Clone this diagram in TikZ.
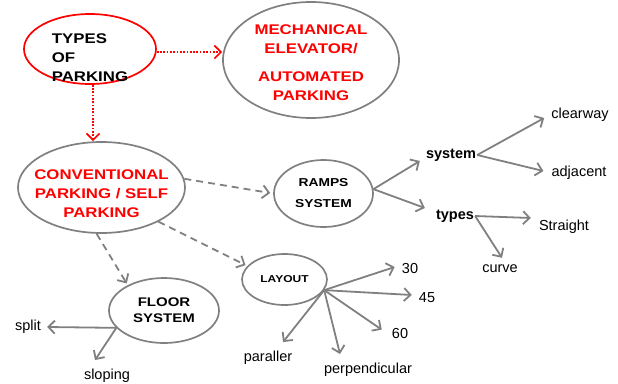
\documentclass[tikz,border=0pt]{standalone}
\usepackage{fontspec}
\setmainfont{Liberation Sans}
\newfontfamily\capsfont[FakeStretch=1.2]{Liberation Sans}
\usetikzlibrary{shapes.geometric,arrows.meta}
\definecolor{linegray}{RGB}{128,128,128}
\definecolor{parkred}{RGB}{255,0,0}

\begin{document}
\begin{tikzpicture}[x=1pt, y=-1pt,
  >={Straight Barb[length=6.5pt,width=13pt]},
  ring/.style={draw=linegray, ellipse, line width=1.7pt, inner xsep=-20pt, inner ysep=-15pt, align=center},
  redring/.style={ring, draw=parkred},
  big/.style={font=\capsfont\bfseries\fontsize{14}{19}\selectfont},
  mid/.style={font=\capsfont\bfseries\fontsize{11.5}{15}\selectfont},
  leaf/.style={font=\fontsize{14.5}{16}\selectfont, inner sep=1pt},
  link/.style={->, draw=linegray, line width=1.8pt},
  dashlink/.style={link, dash pattern=on 7pt off 5pt},
  dotlink/.style={->, draw=parkred, line width=1.7pt, dash pattern=on 1.7pt off 1.6pt}]
  \useasboundingbox (0,0) rectangle (618,383);
  % main ellipses
  \node[redring, big, align=left, minimum width=132, minimum height=70] (types) at (90,49) {\rule{0pt}{28pt}TYPES\\OF\\PARKING};
  \node[ring, big, text=parkred, minimum width=176, minimum height=116] (mech) at (311,60) {\rule{0pt}{16pt}MECHANICAL\\ELEVATOR/\\[9pt]AUTOMATED\\PARKING};
  \node[ring, big, text=parkred, minimum width=167, minimum height=91] (conv) at (101.5,187.5) {\rule{0pt}{22pt}CONVENTIONAL\\PARKING / SELF\\PARKING};
  \node[ring, mid, minimum width=99, minimum height=67] (ramps) at (323.5,193.5) {RAMPS\\[6pt]SYSTEM};
  \node[ring, font=\capsfont\bfseries\fontsize{10}{12}\selectfont, minimum width=85, minimum height=51] (lay) at (284.5,279.5) {LAYOUT};
  \node[ring, font=\capsfont\bfseries\fontsize{12.5}{16}\selectfont, minimum width=110, minimum height=65] (floor) at (164,310.5) {FLOOR\\SYSTEM};
  % leaves
  \node[leaf, font=\bfseries\fontsize{14.5}{16}\selectfont] (sys) at (451,155) {system};
  \node[leaf, font=\bfseries\fontsize{14.5}{16}\selectfont] (typ) at (455,216) {types};
  \node[leaf] (clr) at (580,115) {clearway};
  \node[leaf] (adj) at (579,173) {adjacent};
  \node[leaf] (str) at (564,227) {Straight};
  \node[leaf] (crv) at (500,269) {curve};
  \node[leaf] (n30) at (410,269) {30};
  \node[leaf] (n45) at (427,298) {45};
  \node[leaf] (n60) at (400,334) {60};
  \node[leaf] (perp) at (368,370) {perpendicular};
  \node[leaf] (par) at (268,358) {paraller};
  \node[leaf] (spl) at (28,327) {split};
  \node[leaf] (slo) at (107,376) {sloping};
  % connectors
  \draw[dotlink] ([yshift=-3pt]types.east) -- ([yshift=-3pt]types.east -| mech.west);
  \draw[dotlink] ([xshift=3pt]types.south) -- ([xshift=3pt]types.south |- conv.north);
  \draw[dashlink, shorten >=3pt] (conv.6) -- (ramps.west);
  \draw[dashlink, shorten >=2pt] (conv.-31) -- (lay.160);
  \draw[dashlink, shorten >=2pt] (conv.-96) -- (floor.145);
  \draw[link] (ramps.5) -- ([xshift=-5pt,yshift=-6pt]sys.west);
  \draw[link] (ramps.5) -- ([xshift=-10pt,yshift=8pt]typ.west);
  \draw[link] (sys.east) -- ([xshift=-6pt,yshift=-3pt]clr.west);
  \draw[link] (sys.east) -- ([xshift=-7pt,yshift=2pt]adj.west);
  \draw[link] (typ.east) -- ([xshift=-7pt,yshift=9pt]str.west);
  \draw[link] (typ.east) -- ([xshift=2pt,yshift=6pt]crv.north);
  \draw[link] (lay.-15) -- ([xshift=-6pt,yshift=2pt]n30.west);
  \draw[link] (lay.-15) -- ([xshift=-6pt,yshift=3pt]n45.west);
  \draw[link] (lay.-15) -- ([xshift=-9pt,yshift=-2pt]n60.north west);
  \draw[link] (lay.-15) -- ([xshift=-28pt,yshift=8pt]perp.north);
  \draw[link] (lay.-15) -- ([xshift=15pt,yshift=8pt]par.north);
  \draw[link] (floor.200) -- ([xshift=5pt]spl.east);
  \draw[link] (floor.200) -- ([xshift=-12pt,yshift=8pt]slo.north);
\end{tikzpicture}
\end{document}
